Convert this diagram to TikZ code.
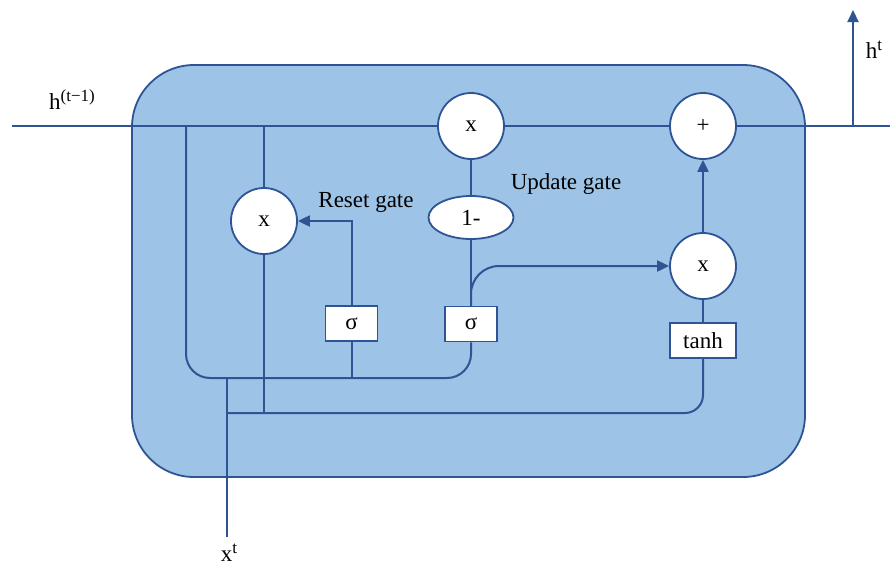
\documentclass[tikz,border=0pt]{standalone}
\usepackage{fontspec}
\setmainfont{Liberation Serif}
\usetikzlibrary{arrows.meta,shapes.geometric}
\definecolor{gruline}{HTML}{2F5496}
\definecolor{cellfill}{HTML}{9DC3E6}
% raised superscript a little larger than \textsuperscript
\newcommand{\upidx}[1]{\raisebox{8pt}{\fontsize{17}{20}\selectfont #1}}
\begin{document}
\begin{tikzpicture}[x=1pt,y=-1pt,
  wire/.style={draw=gruline,line width=2pt},
  tip/.style={-{Triangle[length=12pt,width=11pt]}},
  opc/.style={circle,draw=gruline,line width=1.8pt,fill=white,minimum size=66pt,inner sep=0pt},
  oneminus/.style={ellipse,draw=gruline,line width=1.8pt,fill=white,minimum width=85pt,minimum height=43pt,inner sep=0pt},
  gatebox/.style={rectangle,draw=gruline,line width=1.8pt,fill=white,minimum width=52pt,minimum height=35pt,inner sep=0pt},
  lbl/.style={font=\fontsize{23}{26}\selectfont,text=black}]
\useasboundingbox (0,0) rectangle (890,573);

% the cell body
\draw[draw=gruline,fill=cellfill,line width=1.8pt,rounded corners=62pt] (132,65) rectangle (805,477);

% operators and gates
\node[opc,lbl] (mtop) at (471,126) {x};
\node[opc,lbl] (plus) at (703,126) {+};
\node[opc,lbl] (mres) at (264,221) {x};
\node[opc,lbl] (mcand) at (703,266) {x};
\node[oneminus,lbl] (om) at (471,217.5) {1-};
\node[gatebox,lbl] (sg1) at (351.5,323.5) {σ};
\node[gatebox,lbl] (sg2) at (471,324) {σ};
\node[gatebox,lbl,minimum width=66pt] (th) at (703,340.5) {tanh};

% free ends and taps
\coordinate (hin) at (12,126);
\coordinate (hout) at (890,126);
\coordinate (hsplit) at (853,126);
\coordinate (htop) at (853,10);
\coordinate (xin) at (227,537);
\coordinate (tapA) at (186,126);
\coordinate (tapB) at (264,126);

% hidden state line
\draw[wire] (hin) -- (mtop);
\draw[wire] (mtop) -- (plus);
\draw[wire] (plus) -- (hout);
\draw[wire,tip] (hsplit) -- (htop);

% previous state and input into the gates
\draw[wire,rounded corners=24pt] (tapA) -- (186,378) -- (471,378) -- (sg2.south);
\draw[wire] (sg1.south) -- (351.5,378);
\draw[wire] (xin) -- (227,378);
\draw[wire,rounded corners=18pt] (227,413) -- (703,413) -- (th.south);
\draw[wire] (tapB) -- (mres);
\draw[wire] (mres) -- (264,413);

% reset gate
\draw[wire,tip] (sg1.north) |- (mres.east);

% update gate
\draw[wire] (sg2) -- (om);
\draw[wire] (om) -- (mtop);
\draw[wire,tip,rounded corners=28pt] (sg2.north) |- (mcand.west);

% candidate state
\draw[wire] (mcand) -- (th);
\draw[wire,tip] (mcand) -- (plus);

% labels
\node[lbl] (lhprev) at (72,100) {h\upidx{(t−1)}};
\node[lbl] (lhnext) at (874,50) {h\upidx{t}};
\node[lbl] (lxin) at (229,553) {x\upidx{t}};
\node[lbl] (lreset) at (366,202) {Reset gate};
\node[lbl] (lupdate) at (566,184) {Update gate};
\end{tikzpicture}
\end{document}
